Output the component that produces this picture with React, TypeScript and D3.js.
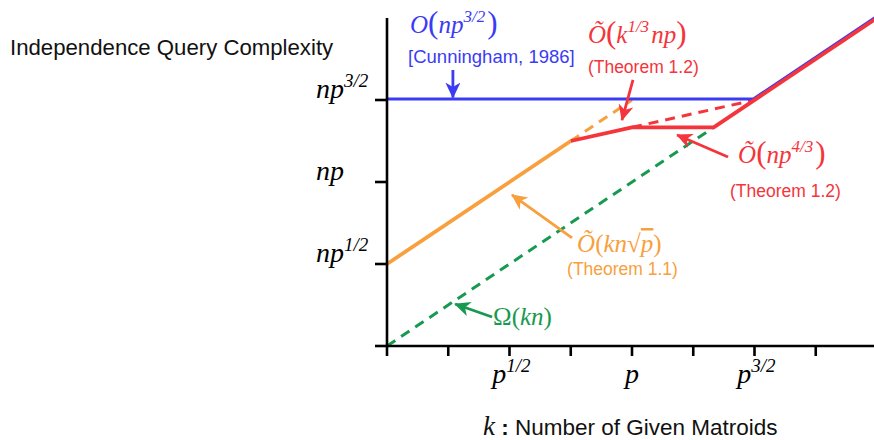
import * as d3 from 'd3';

// values are exponents of p: x = log_p(k), y = log_p(queries / n)
const xTickValues = [0, 0.25, 0.5, 0.75, 1, 1.25, 1.5, 1.75];
const xTickLabels = [
  { value: 0.5, base: 'p', sup: '1/2' },
  { value: 1, base: 'p', sup: '' },
  { value: 1.5, base: 'p', sup: '3/2' },
];
const yTickValues = [0, 0.5, 1, 1.5];
const yTickLabels = [
  { value: 0.5, base: 'np', sup: '1/2' },
  { value: 1, base: 'np', sup: '' },
  { value: 1.5, base: 'np', sup: '3/2' },
];

const cunningham = [[0, 1.5], [1.5, 1.5], [2, 2]];
const thm11Solid = [[0, 0.5], [0.75, 1.25]];
const thm11Dashed = [[0.75, 1.25], [1, 1.5]];
const lowerBound = [[0, 0], [4 / 3, 4 / 3]];
const thm12Solid = [[0.75, 1.25], [1, 4 / 3], [4 / 3, 4 / 3], [2, 2]];
const thm12Dashed = [[1, 4 / 3], [1.5, 1.5]];

const BLUE = '#3b3bf4';
const RED = '#f4353b';
const ORANGE = '#f8a03e';
const GREEN = '#179a4f';

const arrows = [
  { color: BLUE, from: [0.269, 1.683], to: [0.269, 1.515] },
  { color: RED, from: [1.004, 1.622], to: [0.959, 1.378] },
  { color: RED, from: [1.392, 1.152], to: [1.184, 1.287] },
  { color: ORANGE, from: [0.755, 0.659], to: [0.51, 0.921] },
  { color: GREEN, from: [0.429, 0.177], to: [0.278, 0.256] },
];

const theoremNotes = [
  { text: '[Cunningham, 1986]', color: BLUE, at: [0.086, 1.726] },
  { text: '(Theorem 1.2)', color: RED, at: [0.82, 1.665] },
  { text: '(Theorem 1.2)', color: RED, at: [1.4, 0.909] },
  { text: '(Theorem 1.1)', color: ORANGE, at: [0.735, 0.433] },
];

const MATH = '"Liberation Serif", "Times New Roman", serif';
const SANS = '"Liberation Sans", Arial, Helvetica, sans-serif';

const width = 874;
const height = 440;

const x = d3.scaleLinear().domain([0, 2]).range([387, 877]);
const y = d3.scaleLinear().domain([0, 2]).range([346, 18]);

const line = d3.line<number[]>()
  .x(d => x(d[0]))
  .y(d => y(d[1]));

const Paren = ({ c }: { c: string }) => (
  <tspan fontStyle="normal" fontSize={31}>{c}</tspan>
);

const Sup = ({ t, size = 17 }: { t: string; size?: number }) => (
  <>
    <tspan fontSize={size} dy={-11}>{t}</tspan>
    <tspan dy={11}>{'\u200a'}</tspan>
  </>
);

const App = () => {
  return (
    <svg
      width={width}
      height={height}
      style={{ position: 'absolute', left: 0, top: 0, background: '#fff' }}
    >
      <defs>
        {[BLUE, RED, ORANGE, GREEN].map(c => (
          <marker
            key={c}
            id={`head-${c.slice(1)}`}
            markerUnits="userSpaceOnUse"
            markerWidth={17}
            markerHeight={15}
            refX={15}
            refY={7.5}
            orient="auto"
          >
            <path d="M0,0 L16,7.5 L0,15 L4.5,7.5 Z" fill={c} />
          </marker>
        ))}
      </defs>

      {/* y label */}
      <text x={10} y={55} fontFamily={SANS} fontSize={22.2} fill="#111">
        Independence Query Complexity
      </text>

      {/* series */}
      <path d={line(lowerBound) ?? ''} fill="none" stroke={GREEN} strokeWidth={3} strokeDasharray="10,7" />
      <path d={line(thm11Dashed) ?? ''} fill="none" stroke={ORANGE} strokeWidth={3} strokeDasharray="10,7" />
      <path d={line(thm12Dashed) ?? ''} fill="none" stroke={RED} strokeWidth={3} strokeDasharray="10,7" />
      <path d={line(cunningham) ?? ''} fill="none" stroke={BLUE} strokeWidth={3.2} transform="translate(-1,-1)" />
      <path d={line(thm11Solid) ?? ''} fill="none" stroke={ORANGE} strokeWidth={3.8} />
      <path d={line(thm12Solid) ?? ''} fill="none" stroke={RED} strokeWidth={3.8} strokeLinejoin="round" />

      {/* axes */}
      <g stroke="#000" strokeWidth={2.6}>
        <line x1={x(0)} x2={width} y1={y(0)} y2={y(0)} />
        <line x1={x(0)} x2={x(0)} y1={y(2)} y2={y(0)} />
        {xTickValues.map(v => (
          <line key={`xt${v}`} x1={x(v)} x2={x(v)} y1={y(0)} y2={y(0) + 10} />
        ))}
        {yTickValues.map(v => (
          <line key={`yt${v}`} x1={x(0) - 12} x2={x(0)} y1={y(v)} y2={y(v)} />
        ))}
      </g>

      {xTickLabels.map(t => (
        <text key={`xl${t.value}`} x={x(t.value) + (t.sup ? 3 : 0)} y={y(0) + 37}
          textAnchor="middle" fontFamily={MATH} fontStyle="italic" fontSize={28}>
          {t.base}
          {t.sup && <Sup t={t.sup} size={19} />}
        </text>
      ))}
      {yTickLabels.map(t => (
        <text key={`yl${t.value}`} x={316} y={y(t.value) - 2}
          fontFamily={MATH} fontStyle="italic" fontSize={28}>
          {t.base}
          {t.sup && <Sup t={t.sup} size={19} />}
        </text>
      ))}

      {/* x label */}
      <text x={483} y={435} fontSize={22.5} fill="#111">
        <tspan fontFamily={MATH} fontStyle="italic" fontSize={27}>k</tspan>
        <tspan fontFamily={SANS} fontWeight="bold"> : </tspan>
        <tspan fontFamily={SANS}>Number of Given Matroids</tspan>
      </text>

      {/* arrows */}
      {arrows.map((a, i) => (
        <line key={`ar${i}`} x1={x(a.from[0])} y1={y(a.from[1])} x2={x(a.to[0])} y2={y(a.to[1])}
          stroke={a.color} strokeWidth={2.8} markerEnd={`url(#head-${a.color.slice(1)})`} />
      ))}

      {/* math annotations */}
      <text x={x(0.094)} y={y(1.909)} fill={BLUE} fontFamily={MATH} fontStyle="italic" fontSize={25}>
        O<Paren c="(" />np<Sup t="3/2" /><Paren c=")" />
      </text>
      <text x={x(0.82)} y={y(1.848)} fill={RED} fontFamily={MATH} fontStyle="italic" fontSize={25}>
        Õ<Paren c="(" />k<Sup t="1/3" />np<Paren c=")" />
      </text>
      <text x={x(1.433)} y={y(1.116)} fill={RED} fontFamily={MATH} fontStyle="italic" fontSize={25}>
        Õ<Paren c="(" />np<Sup t="4/3" /><Paren c=")" />
      </text>
      <text x={x(0.776)} y={y(0.573)} fill={ORANGE} fontFamily={MATH} fontStyle="italic" fontSize={25}>
        Õ<tspan fontStyle="normal">(</tspan>kn<tspan fontStyle="normal">√</tspan>
        <tspan style={{ textDecoration: 'overline' }}>p</tspan>
        <tspan fontStyle="normal">)</tspan>
      </text>
      <text x={x(0.433)} y={y(0.128)} fill={GREEN} fontFamily={MATH} fontSize={25}>
        Ω(<tspan fontStyle="italic">kn</tspan>)
      </text>

      {theoremNotes.map((n, i) => (
        <text key={`tn${i}`} x={x(n.at[0])} y={y(n.at[1])} fill={n.color}
          fontFamily={SANS} fontSize={n.text.startsWith('[') ? 18.5 : 17.5}>
          {n.text}
        </text>
      ))}
    </svg>
  );
};

export default App;
